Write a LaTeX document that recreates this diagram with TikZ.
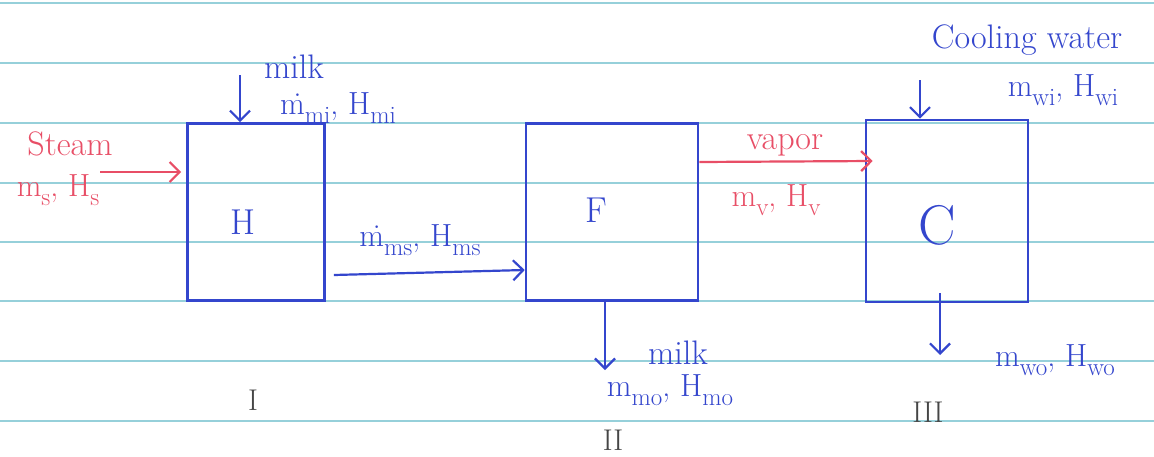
\documentclass[tikz,border=0pt]{standalone}
\usetikzlibrary{arrows.meta}
\definecolor{inkblue}{RGB}{52,70,205}
\definecolor{inkred}{RGB}{232,78,102}
\definecolor{paper}{RGB}{150,208,218}
\definecolor{pencil}{RGB}{70,70,70}
\newcommand{\flowsub}[1]{\raisebox{-0.28em}{\fontsize{25}{27}\selectfont #1}}
\begin{document}
\begin{tikzpicture}[x=1pt,y=-1pt,
  paperline/.style={draw=paper, line width=1.3pt},
  unitbox/.style={draw=inkblue, line width=2.6pt, rectangle, inner sep=0pt},
  bluearrow/.style={draw=inkblue, line width=2.2pt, -{Straight Barb[length=10pt,width=20pt,line width=2.2pt]}},
  redarrow/.style={draw=inkred, line width=2.2pt, -{Straight Barb[length=10pt,width=20pt,line width=2.2pt]}},
  bluetext/.style={text=inkblue, font=\fontsize{34}{38}\selectfont, inner sep=0pt},
  redtext/.style={text=inkred, font=\fontsize{34}{38}\selectfont, inner sep=0pt},
  bluemath/.style={text=inkblue, font=\fontsize{32}{36}\selectfont, inner sep=0pt},
  redmath/.style={text=inkred, font=\fontsize{32}{36}\selectfont, inner sep=0pt},
  numeral/.style={text=pencil, font=\fontsize{30}{34}\selectfont, inner sep=0pt},
  boxlabel/.style={text=inkblue, font=\fontsize{36}{40}\selectfont, inner sep=0pt}]
\useasboundingbox (0,0) rectangle (1154,456);
\fill[white] (0,0) rectangle (1154,456);
\foreach \yy in {3,63,123,183,242,301,361,421}
  \draw[paperline] (0,\yy) -- (1154,\yy);

% units
\node[unitbox, minimum width=137pt, minimum height=177pt] (H) at (256,212) {};
\node[unitbox, minimum width=172pt, minimum height=177pt] (F) at (612,212) {};
\node[unitbox, minimum width=162pt, minimum height=182pt] (C) at (947,211) {};
\node[boxlabel] (Hlab) at (243,222) {H};
\node[boxlabel] (Flab) at (596,210) {F};
\node[boxlabel, font=\fontsize{56}{60}\selectfont] (Clab) at (937,225) {C};

% milk into H
\coordinate (milkin) at (240,75);
\draw[bluearrow] (milkin) -- (milkin |- H.north);
\node[bluetext] (milk1) at (294,67) {milk};
\node[bluemath] (mmi) at (338,108) {\.m\flowsub{mi}, H\flowsub{mi}};

% steam into H
\coordinate (steamin) at (100,172);
\draw[redarrow] (steamin) -- ([xshift=-5pt]H.west |- steamin);
\node[redtext] (steam) at (70,144) {Steam};
\node[redmath] (ms) at (58,190) {m\flowsub{s}, H\flowsub{s}};

% H to F
\coordinate (hfstart) at ([xshift=8pt]H.east |- 0,275);
\draw[bluearrow] (hfstart) -- (F.west |- 0,270);
\node[bluemath] (mms) at (420,240) {\.m\flowsub{ms}, H\flowsub{ms}};

% vapor F to C
\draw[redarrow] (F.east |- 0,162) -- ([xshift=8pt]C.west |- 0,161);
\node[redtext] (vapor) at (785,145) {vapor};
\node[redmath] (mv) at (776,200) {m\flowsub{v}, H\flowsub{v}};

% cooling water into C
\coordinate (cwin) at (920,80);
\draw[bluearrow] (cwin) -- (cwin |- C.north);
\node[bluetext] (cw) at (1027,40) {Cooling water};
\node[bluemath] (mwi) at (1063,90) {m\flowsub{wi}, H\flowsub{wi}};

% milk out of F
\coordinate (milkout) at (605,370);
\draw[bluearrow] (milkout |- F.south) -- (milkout);
\node[bluetext] (milk2) at (678,353) {milk};
\node[bluemath] (mmo) at (670,390) {m\flowsub{mo}, H\flowsub{mo}};

% water out of C
\coordinate (cwout) at (940,355);
\draw[bluearrow] ([yshift=10pt]cwout |- C.south) -- (cwout);
\node[bluemath] (mwo) at (1055,360) {m\flowsub{wo}, H\flowsub{wo}};

% numerals
\node[numeral] (n1) at (253,400) {I};
\node[numeral] (n2) at (613,440) {II};
\node[numeral] (n3) at (928,412) {III};
\end{tikzpicture}
\end{document}
